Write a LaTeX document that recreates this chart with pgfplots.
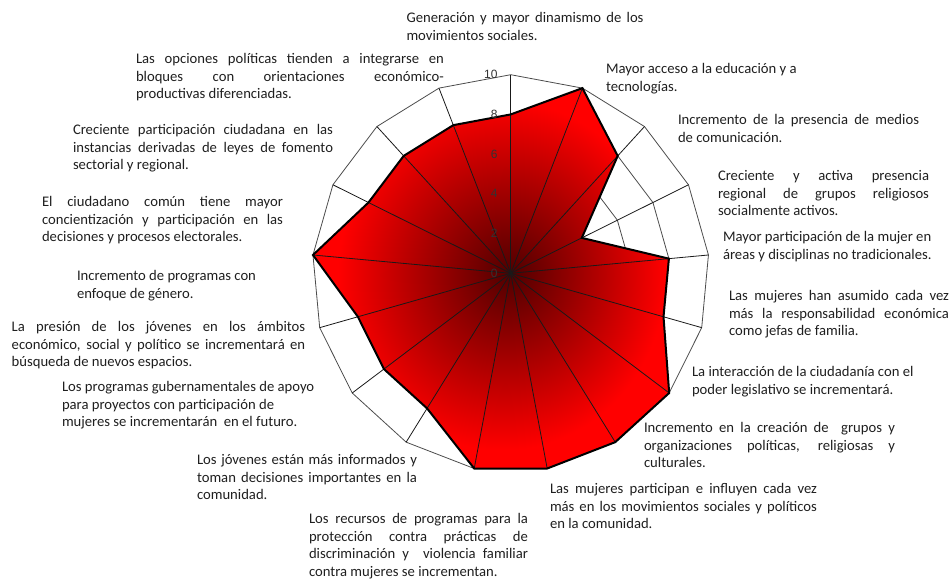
\documentclass[border=0pt]{standalone}
\usepackage{pgfplots}
\usepackage{pgfplotstable}
\usepackage{fontspec}
\setmainfont{Carlito}
\newfontfamily\tickfont{Liberation Sans}
\pgfplotsset{compat=1.18}

\definecolor{rojo}{RGB}{255,0,0}
\definecolor{rojooscuro}{RGB}{80,0,0}
\pgfdeclareradialshading{radar}{\pgfpoint{2.8bp}{0.7bp}}{color(0bp)=(rojooscuro); color(23bp)=(rojo); color(50bp)=(rojo)}

\tolerance=10000
\hbadness=10000
\hyphenpenalty=10000

% angulo: 90 - k*360/17 (en sentido horario desde arriba)
\pgfplotstableread{
k angle value
0 90 8
1 68.824 10
2 47.647 8
3 26.471 4
4 5.294 8
5 -15.882 8
6 -37.059 10
7 -58.235 10
8 -79.412 10
9 -100.588 10
10 -121.765 8
11 -142.941 8
12 -164.118 8
13 -185.294 10
14 -206.471 8
15 -227.647 8
16 -248.824 8
}\radar

\newcommand{\lblfont}{\fontsize{11}{13.3}\selectfont}
\tikzset{lbl/.style={anchor=north west, inner sep=0pt, outer sep=0pt,
    align=justify, font=\lblfont, text=black!88}}

\begin{document}
\begin{tikzpicture}[x=0.75pt, y=-0.75pt]
\useasboundingbox (0,0) rectangle (951,579);
\coordinate (C) at (510.7,273.3);

\begin{axis}[
    at={(C)}, anchor=center,
    scale only axis, width=297.9pt, height=297.9pt,
    xmin=-10, xmax=10, ymin=-10, ymax=10,
    hide axis, clip=false]

  % anillos de la rejilla
  \pgfplotsinvokeforeach{2,4,6,8,10}{
    \addplot[data cs=polar, black!70, line width=0.6pt]
      table[x=angle, y expr=#1] {\radar} -- cycle;
  }

  % area
  \addplot[data cs=polar, draw=none, shade, shading=radar]
    table[x=angle, y=value] {\radar} -- cycle;

  % etiquetas del eje
  \addplot[data cs=polar, draw=none, nodes near coords,
    point meta=explicit symbolic,
    nodes near coords style={anchor=east, inner sep=0pt, xshift=-9.75pt,
      font=\tickfont\fontsize{9}{10}\selectfont, text=black!80}]
    coordinates {(90,0) [0] (90,2) [2] (90,4) [4] (90,6) [6] (90,8) [8] (90,10) [10]};

  % radios
  \pgfplotsinvokeforeach{90,68.824,47.647,26.471,5.294,-15.882,-37.059,-58.235,
      -79.412,-100.588,-121.765,-142.941,-164.118,-185.294,-206.471,-227.647,-248.824}{
    \addplot[data cs=polar, black!90, line width=0.6pt] coordinates {(#1,0) (#1,10)};
  }

  % contorno
  \addplot[data cs=polar, black, line width=1.5pt, line join=miter]
    table[x=angle, y=value] {\radar} -- cycle;
\end{axis}

\node[lbl, text width=237*0.75pt] at (406.5,10) {\strut Generación y mayor dinamismo de los\linebreak movimientos sociales.};
\node[lbl, text width=205*0.75pt] at (606,61) {\strut Mayor acceso a la educación y a\newline tecnologías.};
\node[lbl, text width=241*0.75pt] at (678,112) {\strut Incremento de la presencia de medios\linebreak de comunicación.};
\node[lbl, text width=211*0.75pt] at (718,168) {\strut Creciente y activa presencia\linebreak regional de grupos religiosos\linebreak socialmente activos.};
\node[lbl, text width=215*0.75pt] at (723,229) {\strut Mayor participación de la mujer en\newline áreas y disciplinas no tradicionales.};
\node[lbl, text width=220*0.75pt] at (729,288) {\strut Las mujeres han asumido cada vez\linebreak más la responsabilidad económica\linebreak como jefas de familia.};
\node[lbl, text width=230*0.75pt] at (692,364) {\strut La interacción de la ciudadanía con el\newline poder legislativo se incrementará.};
\node[lbl, text width=251*0.75pt] at (644,420) {\strut Incremento en la creación de\ \ grupos y\linebreak organizaciones políticas, religiosas y\linebreak culturales.};
\node[lbl, text width=267*0.75pt] at (550,481) {\strut Las mujeres participan e influyen cada vez\linebreak más en los movimientos sociales y políticos\linebreak en la comunidad.};
\node[lbl, text width=219*0.75pt] at (309,511) {\strut Los recursos de programas para la\linebreak protección contra prácticas de\linebreak discriminación y\ \ violencia familiar\linebreak contra mujeres se incrementan.};
\node[lbl, text width=220*0.75pt] at (197,452) {\strut Los jóvenes están más informados y\linebreak toman decisiones importantes en la\linebreak comunidad.};
\node[lbl, text width=255*0.75pt] at (62,379) {\strut Los programas gubernamentales de apoyo\newline para proyectos con participación de\newline mujeres se incrementarán\ \ en el futuro.};
\node[lbl, text width=293.5*0.75pt] at (11.7,319) {\strut La presión de los jóvenes en los ámbitos\linebreak económico, social y político se incrementará en\linebreak búsqueda de nuevos espacios.};
\node[lbl, text width=200*0.75pt] at (77,268) {\strut Incremento de programas con\newline enfoque de género.};
\node[lbl, text width=241*0.75pt] at (42,194) {\strut El ciudadano común tiene mayor\linebreak concientización y participación en las\linebreak decisiones y procesos electorales.};
\node[lbl, text width=260*0.75pt] at (73,122) {\strut Creciente participación ciudadana en las\linebreak instancias derivadas de leyes de fomento\linebreak sectorial y regional.};
\node[lbl, text width=308*0.75pt] at (136,51) {\strut Las opciones políticas tienden a integrarse en\linebreak bloques con orientaciones económico-\linebreak productivas diferenciadas.};
\end{tikzpicture}
\end{document}
